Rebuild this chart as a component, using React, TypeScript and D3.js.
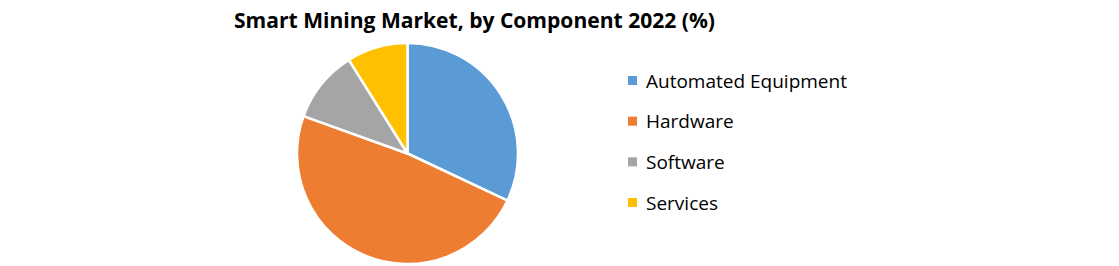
import React from "react";
import * as d3 from "d3";

const title = "Smart Mining Market, by Component 2022 (%)";
const categories = ["Automated Equipment", "Hardware", "Software", "Services"];
const values = [32, 48.5, 10.6, 8.9];
const colors = ["#5B9BD5", "#ED7D31", "#A5A5A5", "#FFC000"];

export default function App() {
  const W = 1119, H = 266;
  const cx = 407.5, cy = 153.5, r = 110.5;
  const pie = d3.pie<number>().sort(null).value((d) => d)(values);
  const arc = d3.arc<d3.PieArcDatum<number>>().innerRadius(0).outerRadius(r);
  const legendY = d3.scalePoint<string>().domain(categories).range([81, 203]);
  return (
    <svg width={W} height={H} style={{ position: "absolute", left: 0, top: 0, background: "#fff" }}>
      <text x={474.5} y={28} textAnchor="middle" fontFamily="'Open Sans', sans-serif" fontWeight="bold" fontSize={21} textLength={481} lengthAdjust="spacingAndGlyphs" fill="#000">
        {title}
      </text>
      <g transform={`translate(${cx},${cy})`}>
        {pie.map((p, i) => (
          <path key={i} d={arc(p) || ""} fill={colors[i]} stroke="#fff" strokeWidth={2.5} strokeLinejoin="round" />
        ))}
      </g>
      {categories.map((c, i) => (
        <g key={c} transform={`translate(628,${legendY(c)})`}>
          <rect x={0} y={-5} width={9} height={9} fill={colors[i]} />
          <text x={18} y={0} dy="0.35em" fontFamily="'Open Sans', sans-serif" fontSize={19} fill="#000">
            {c}
          </text>
        </g>
      ))}
    </svg>
  );
}
